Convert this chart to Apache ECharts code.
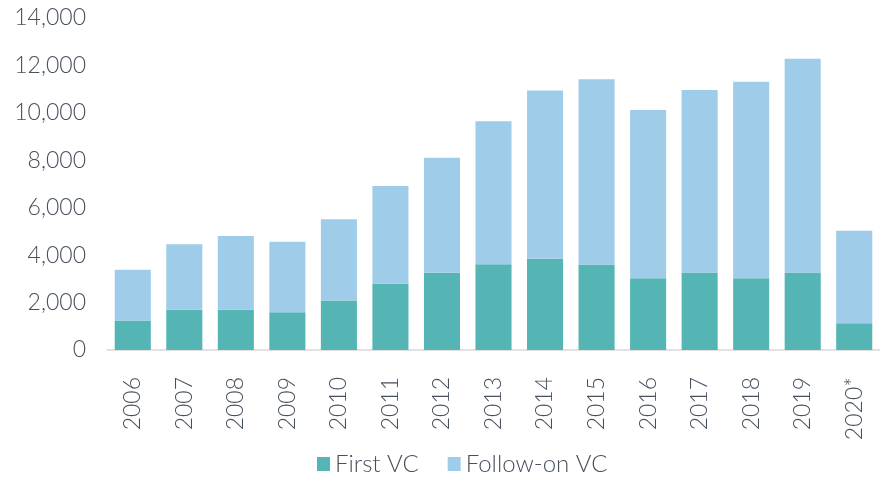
<!DOCTYPE html>
<html>
<head>
<meta charset="utf-8">
<script src="https://cdn.jsdelivr.net/npm/echarts@6/dist/echarts.min.js"></script>
<style>
  html, body { margin: 0; padding: 0; background: #fff; }
  #main { width: 880px; height: 485px; }
</style>
</head>
<body>
<div id="main"></div>
<script>
// 年份
const years = ['2006','2007','2008','2009','2010','2011','2012','2013','2014','2015','2016','2017','2018','2019','2020*'];
// First VC
const firstVC = [1240,1700,1700,1590,2090,2790,3260,3620,3850,3610,3030,3270,3030,3270,1130];
// Follow-on VC
const followOnVC = [2140,2760,3110,2980,3420,4130,4850,6030,7090,7810,7090,7690,8280,9010,3900];
// y轴刻度
const yMin = 0, yMax = 14000, yStep = 2000;

const txtColor = '#47505d';
const font = 'Lato';

var myChart = echarts.init(document.getElementById('main'), null, {renderer: 'canvas'});
myChart.setOption({
  animation: false,
  grid: { left: 107, right: -1, top: 18, bottom: 135 },
  legend: {
    left: 312, bottom: 4,
    itemWidth: 13, itemHeight: 14, itemGap: 29,
    icon: 'rect',
    textStyle: { fontFamily: font, fontWeight: 300, fontSize: 24, color: txtColor },
    data: ['First VC', 'Follow-on VC']
  },
  xAxis: {
    type: 'category',
    data: years,
    axisLine: { lineStyle: { color: '#d9d9d9', width: 1.5 } },
    axisTick: { show: false },
    axisLabel: { rotate: 90, margin: 27, fontFamily: font, fontWeight: 300, fontSize: 23, color: txtColor }
  },
  yAxis: {
    type: 'value',
    min: yMin, max: yMax, interval: yStep,
    splitLine: { show: false },
    axisLine: { show: false },
    axisTick: { show: false },
    axisLabel: {
      margin: 21, fontFamily: font, fontWeight: 300, fontSize: 23, color: txtColor,
      formatter: function (v) { return v.toLocaleString('en-US'); }
    }
  },
  series: [
    { name: 'First VC', type: 'bar', stack: 'vc', barWidth: '70%', data: firstVC,
      itemStyle: { color: '#55b5b5' } },
    { name: 'Follow-on VC', type: 'bar', stack: 'vc', data: followOnVC,
      itemStyle: { color: '#9fcde9' } }
  ]
});
</script>
</body>
</html>
